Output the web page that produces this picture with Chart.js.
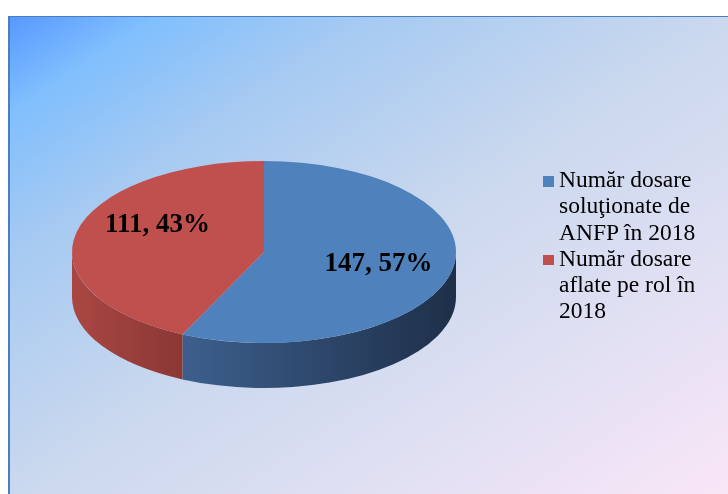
<!DOCTYPE html>
<html>
<head>
<meta charset="utf-8">
<script src="https://cdn.jsdelivr.net/npm/chart.js@4.4.0/dist/chart.umd.min.js"></script>
<style>
body{margin:0;width:728px;height:494px;background:#fff;position:relative;overflow:hidden;font-family:"Liberation Serif","Times New Roman",serif}
#frame{position:absolute;left:8px;top:16px;right:0;bottom:0;border-left:2px solid #4a7ebf;border-top:1px solid #4a7ebf;
  background:linear-gradient(to bottom right,#5898ff 0%,#80bffd 10%,#a6caf2 25%,#cad8ee 50%,#e1e0f3 75%,#f9e6f7 100%)}
#chart{position:absolute;left:0;top:0}
#legend{position:absolute;left:543px;top:166px;font-size:23.5px;line-height:26.3px;color:#000}
.item{position:relative;padding-left:16px;white-space:nowrap}
.box{position:absolute;left:0;top:10px;width:10.5px;height:10.5px}
</style>
</head>
<body>
<div id="frame"></div>
<canvas id="chart" width="728" height="494"></canvas>
<div id="legend"></div>
<script>
const labels = ['Număr dosare soluţionate de ANFP în 2018', 'Număr dosare aflate pe rol în 2018'];
const legendLines = [['Număr dosare', 'soluţionate de', 'ANFP în 2018'], ['Număr dosare', 'aflate pe rol în', '2018']];
const values = [147, 111];

const topColors = ['#4f81bd', '#c0504d'];
const sideColors = [['#3d5f8d', '#1e2f49'], ['#aa4642', '#8b3835']];

// flattening of the pie to look like the tilted 3D one
const TILT = 91 / 192;
const DEPTH = 45;
const TOP_Y = 252;

const total = values.reduce((a, b) => a + b, 0);

const pie3d = {
    id: 'pie3d',
    beforeDatasetsDraw(chart) {
        const ctx = chart.ctx;
        const arcs = chart.getDatasetMeta(0).data;
        arcs.forEach((arc, i) => {
            const {x, startAngle, endAngle, outerRadius} = arc.getProps(['x', 'startAngle', 'endAngle', 'outerRadius']);
            const ry = outerRadius * TILT;
            [0, 2 * Math.PI, -2 * Math.PI].forEach(shift => {
                const a0 = Math.max(startAngle, shift);
                const a1 = Math.min(endAngle, shift + Math.PI);
                if (a1 <= a0) return;
                const xl = x + outerRadius * Math.cos(a1);
                const xr = x + outerRadius * Math.cos(a0);
                const grad = ctx.createLinearGradient(xl, 0, xr, 0);
                grad.addColorStop(0, sideColors[i][0]);
                grad.addColorStop(1, sideColors[i][1]);
                ctx.beginPath();
                ctx.ellipse(x, TOP_Y, outerRadius, ry, 0, a0, a1);
                ctx.lineTo(x + outerRadius * Math.cos(a1), TOP_Y + ry * Math.sin(a1) + DEPTH);
                ctx.ellipse(x, TOP_Y + DEPTH, outerRadius, ry, 0, a1, a0, true);
                ctx.closePath();
                ctx.fillStyle = grad;
                ctx.fill();
            });
        });
        ctx.save();
        ctx.translate(0, TOP_Y);
        ctx.scale(1, TILT);
        ctx.translate(0, -arcs[0].y);
    },
    afterDatasetsDraw(chart) {
        const ctx = chart.ctx;
        ctx.restore();
        const arcs = chart.getDatasetMeta(0).data;
        ctx.save();
        ctx.font = 'bold 27px "Liberation Serif", "Times New Roman", serif';
        ctx.fillStyle = '#000';
        ctx.textAlign = 'center';
        ctx.textBaseline = 'middle';
        arcs.forEach((arc, i) => {
            const {x, startAngle, endAngle, outerRadius} = arc.getProps(['x', 'startAngle', 'endAngle', 'outerRadius']);
            const mid = (startAngle + endAngle) / 2;
            const r = outerRadius * 0.6;
            // back half looks shorter in perspective, so lift those labels a bit
            const back = Math.sin(mid) < 0;
            const lx = x + r * Math.cos(mid) + (back ? 6 : 2);
            const ly = TOP_Y + r * Math.sin(mid) * TILT - (back ? 15 : 0);
            const pct = Math.round(values[i] / total * 100);
            ctx.fillText(values[i] + ', ' + pct + '%', lx, ly);
        });
        ctx.restore();
    }
};

new Chart(document.getElementById('chart'), {
    type: 'pie',
    data: {
        labels: labels,
        datasets: [{
            data: values,
            backgroundColor: topColors,
            borderWidth: 0,
            hoverOffset: 0,
            offset: 0,
            clip: false
        }]
    },
    options: {
        responsive: false,
        animation: false,
        events: [],
        layout: {padding: {left: 72, right: 272, top: 0, bottom: 110}},
        plugins: {legend: {display: false}, tooltip: {enabled: false}}
    },
    plugins: [pie3d]
});

const legend = document.getElementById('legend');
legendLines.forEach((lines, i) => {
    const item = document.createElement('div');
    item.className = 'item';
    item.innerHTML = '<span class="box" style="background:' + topColors[i] + '"></span>' + lines.join('<br>');
    legend.appendChild(item);
});
</script>
</body>
</html>
